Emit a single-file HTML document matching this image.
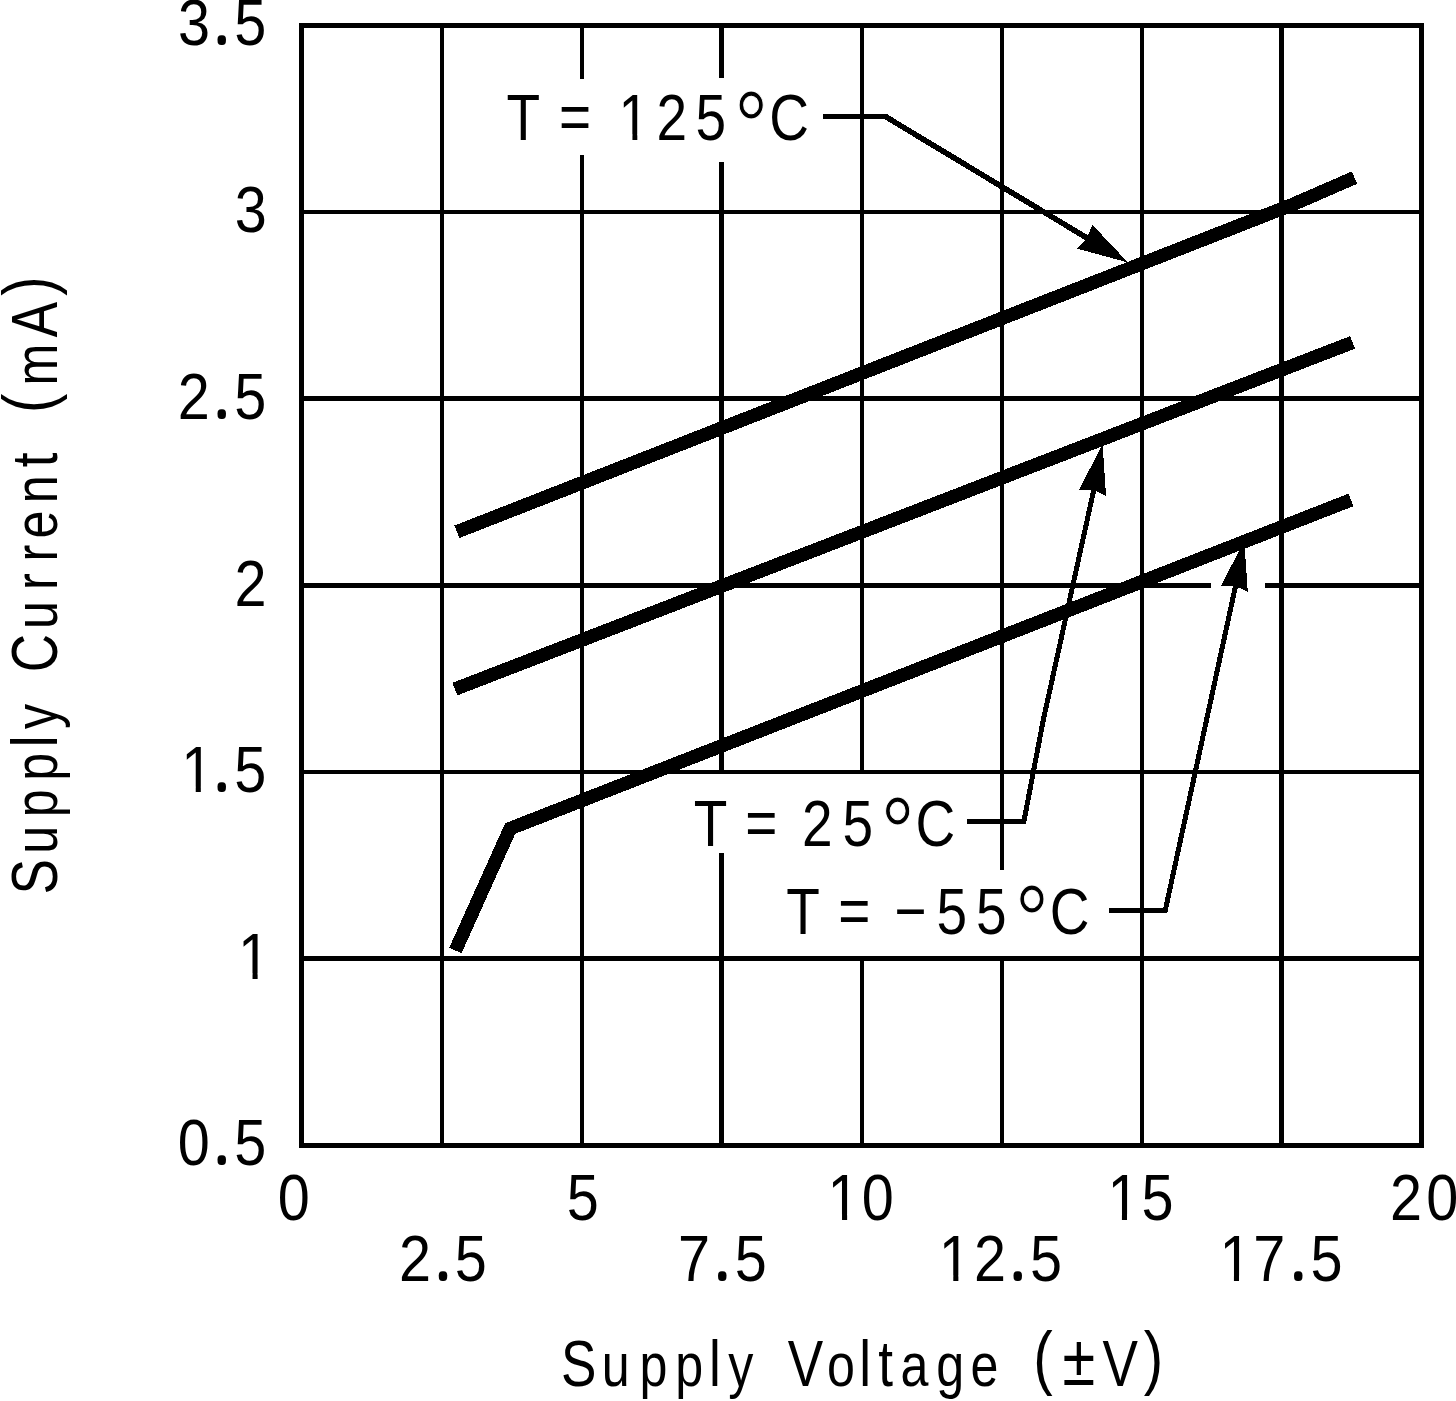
<!DOCTYPE html>
<html lang="en"><head><meta charset="utf-8"><title>Supply Current vs Supply Voltage</title>
<style>html,body{margin:0;padding:0;background:#fff}body{width:1456px;height:1401px;overflow:hidden}svg{display:block}text{font-family:"Liberation Sans",sans-serif;fill:#000;white-space:pre}</style></head><body>
<svg width="1456" height="1401" viewBox="0 0 1456 1401">
<rect width="1456" height="1401" fill="#fff"/>
<g fill="#000" shape-rendering="crispEdges">
<rect x="440" y="23" width="4" height="1125"/>
<rect x="580" y="23" width="4" height="56"/>
<rect x="580" y="155" width="4" height="993"/>
<rect x="719" y="23" width="5" height="55"/>
<rect x="719" y="162" width="5" height="612"/>
<rect x="719" y="853" width="5" height="295"/>
<rect x="860" y="23" width="4" height="751"/>
<rect x="860" y="956" width="4" height="192"/>
<rect x="1000" y="23" width="4" height="847"/>
<rect x="1000" y="956" width="4" height="192"/>
<rect x="1140" y="23" width="4" height="1125"/>
<rect x="1279" y="23" width="5" height="1125"/>
<rect x="299" y="210" width="1125" height="4"/>
<rect x="299" y="396" width="1125" height="5"/>
<rect x="299" y="583" width="912" height="5"/>
<rect x="1265" y="583" width="159" height="5"/>
<rect x="299" y="770" width="1125" height="4"/>
<rect x="299" y="956" width="1125" height="5"/>
<rect x="299" y="23" width="1125" height="5"/><rect x="299" y="1143" width="1125" height="5"/>
<rect x="299" y="23" width="5" height="1125"/><rect x="1419" y="23" width="5" height="1125"/>
</g>
<g fill="#000" shape-rendering="crispEdges">
<rect x="823" y="114" width="63" height="5"/>
<rect x="967" y="819" width="58" height="5"/>
<rect x="1109" y="908" width="58" height="5"/>
</g>
<g fill="none" stroke="#000" stroke-linecap="butt" shape-rendering="crispEdges">
<path d="M884.6 116L1090 239.8" stroke-width="5.6"/>
<path d="M1023.5 823.5L1043.3 720L1094 489" stroke-width="5" stroke-linejoin="round"/>
<path d="M1164.8 912.5L1236 584" stroke-width="5"/>
</g>
<g fill="#000" stroke="none" shape-rendering="crispEdges">
<path d="M1128 262.5L1092.4 224.8L1087 238.2L1077 248.6Z"/>
<path d="M1102.6 444.1L1079.1 489.7L1093.3 490L1106 495.9Z"/>
<path d="M1244.3 541L1221 585.6L1235.2 586L1247.8 591.8Z"/>
</g>
<g fill="none" stroke="#000" stroke-width="13.5" stroke-linejoin="miter" stroke-linecap="butt" shape-rendering="crispEdges">
<path d="M456.9 531.8L1293 204.4L1354.5 177.6"/>
<path d="M454.9 689.1L1352.6 342.4"/>
<path d="M455.4 950.5L510.2 828.5L1351 499.9"/>
</g>
<g>
<text transform="scale(0.9,1)" x="197.78 244.11 260.21" y="45.4 41.5 45.4" font-size="64">3<tspan font-size="16" stroke="#000" stroke-width="7.8" stroke-linejoin="round">.</tspan>5</text>
<text transform="scale(0.9,1)" x="260.78" y="231.8" font-size="64">3</text>
<text transform="scale(0.9,1)" x="197.59 244.11 260.21" y="418.6 414.7 418.6" font-size="64">2<tspan font-size="16" stroke="#000" stroke-width="7.8" stroke-linejoin="round">.</tspan>5</text>
<text transform="scale(0.9,1)" x="260.59" y="605.8" font-size="64">2</text>
<text transform="scale(0.9,1)" x="201.38 244.11 260.21" y="792.2 788.3 792.2" font-size="64">1<tspan font-size="16" stroke="#000" stroke-width="7.8" stroke-linejoin="round">.</tspan>5</text>
<text transform="scale(0.9,1)" x="264.49" y="978.9" font-size="64">1</text>
<text transform="scale(0.9,1)" x="197.59 244.11 260.21" y="1165.4 1161.5 1165.4" font-size="64">0<tspan font-size="16" stroke="#000" stroke-width="7.8" stroke-linejoin="round">.</tspan>5</text>
<text transform="scale(0.9,1)" x="308.65" y="1219.6" font-size="64">0</text>
<text transform="scale(0.9,1)" x="629.82" y="1219.6" font-size="64">5</text>
<text transform="scale(0.9,1)" x="919.49 957.54" y="1219.6" font-size="64">10</text>
<text transform="scale(0.9,1)" x="1230.49 1268.43" y="1219.6" font-size="64">15</text>
<text transform="scale(0.9,1)" x="1544.48 1584.76" y="1219.6" font-size="64">20</text>
<text transform="scale(0.9,1)" x="443.26 490.11 505.32" y="1281 1277.1 1281" font-size="64">2<tspan font-size="16" stroke="#000" stroke-width="7.8" stroke-linejoin="round">.</tspan>5</text>
<text transform="scale(0.9,1)" x="753.34 800.28 816.38" y="1281 1277.1 1281" font-size="64">7<tspan font-size="16" stroke="#000" stroke-width="7.8" stroke-linejoin="round">.</tspan>5</text>
<text transform="scale(0.9,1)" x="1043.1 1082.09 1128.61 1144.38" y="1281 1281 1277.1 1281" font-size="64">12<tspan font-size="16" stroke="#000" stroke-width="7.8" stroke-linejoin="round">.</tspan>5</text>
<text transform="scale(0.9,1)" x="1354.94 1392.56 1440.17 1455.99" y="1281 1281 1277.1 1281" font-size="64">17<tspan font-size="16" stroke="#000" stroke-width="7.8" stroke-linejoin="round">.</tspan>5</text>
<text transform="scale(0.86,1)" x="589.02 628.11 649.99 687.37 719.3 763.25 808.78 853.58 894.45" y="139.9 139.9 138.9 139.9 139.9 139.9 139.9 160.9 139.9" font-size="64">T = 125<tspan font-size="100" stroke="#fff" stroke-width="1">°</tspan>C</text>
<text transform="scale(0.86,1)" x="806.69 845.78 866.62 903.99 932.44 979.53 1023.75 1064.51" y="845.8 845.8 844.8 845.8 845.8 845.8 866.8 845.8" font-size="64">T = 25<tspan font-size="100" stroke="#fff" stroke-width="1">°</tspan>C</text>
<text transform="scale(0.86,1)" x="914.19 953.28 974.82 1012.19 1040.08 1088.89 1134.94 1179.85 1220.79" y="934.1 934.1 933.1 934.1 932.7 934.1 934.1 955.1 934.1" font-size="64">T = −55<tspan font-size="100" stroke="#fff" stroke-width="1">°</tspan>C</text>
<text transform="scale(0.83,1)" x="675.9 725.15 770.45 813.65 854.14 877.4 909.4 948.96 996.25 1035.34 1058.27 1085.09 1128.02 1169.14 1204.74 1244.92 1280.19 1328.23 1377.97" y="1386.2 1386.2 1386.2 1386.2 1386.2 1386.2 1386.2 1386.2 1386.2 1386.2 1386.2 1386.2 1386.2 1386.2 1386.2 1380.9 1385.2 1386.2 1380.9" font-size="64">S<tspan font-size="60.48">upp</tspan>l<tspan font-size="60.48">y</tspan> V<tspan font-size="60.48">o</tspan>lt<tspan font-size="60.48">age</tspan> <tspan font-size="70.4">(</tspan><tspan font-size="71.68">±</tspan>V<tspan font-size="70.4">)</tspan></text>
<text transform="translate(57,892.5) rotate(-90) scale(0.83,1)" x="-2.35 46.78 90.64 134.55 174.92 196.85 228.85 265.34 317.62 364.39 398.66 426.55 468.86 512.43 530.21 577.57 610.82 669.02 718.99" y="0 0 0 0 0 0 0 0 0 0 0 0 0 0 0 -5.3 0 0 -5.3" font-size="64">S<tspan font-size="60.48">upp</tspan>l<tspan font-size="60.48">y</tspan> C<tspan font-size="60.48">urren</tspan>t <tspan font-size="70.4">(</tspan><tspan font-size="60.48">m</tspan>A<tspan font-size="70.4">)</tspan></text>
</g>
<g fill="#fff">
<rect x="184.63" y="786.82" width="11.1" height="6.38"/>
<rect x="200.82" y="786.82" width="10.65" height="6.38"/>
<rect x="241.43" y="973.52" width="11.1" height="6.38"/>
<rect x="257.62" y="973.52" width="10.65" height="6.38"/>
<rect x="830.93" y="1214.22" width="11.1" height="6.38"/>
<rect x="847.12" y="1214.22" width="10.65" height="6.38"/>
<rect x="1110.83" y="1214.22" width="11.1" height="6.38"/>
<rect x="1127.02" y="1214.22" width="10.65" height="6.38"/>
<rect x="942.18" y="1275.62" width="11.1" height="6.38"/>
<rect x="958.37" y="1275.62" width="10.65" height="6.38"/>
<rect x="1222.83" y="1275.62" width="11.1" height="6.38"/>
<rect x="1239.02" y="1275.62" width="10.65" height="6.38"/>
<rect x="621.79" y="134.52" width="10.65" height="6.38"/>
<rect x="637.31" y="134.52" width="10.22" height="6.38"/>
</g>
</svg></body></html>
